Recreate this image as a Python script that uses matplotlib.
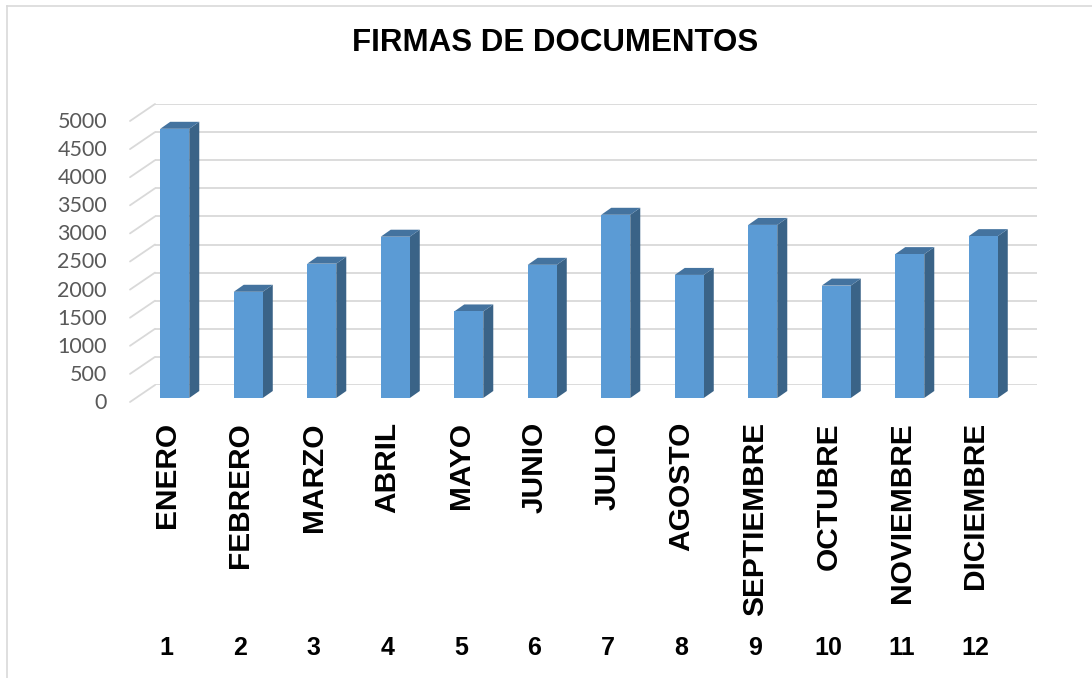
import matplotlib
matplotlib.use("Agg")
import matplotlib.pyplot as plt
from matplotlib.patches import Rectangle, Polygon
from matplotlib.lines import Line2D
import matplotlib.transforms as mtransforms

# ---- data ----
months = ["ENERO", "FEBRERO", "MARZO", "ABRIL", "MAYO", "JUNIO", "JULIO",
          "AGOSTO", "SEPTIEMBRE", "OCTUBRE", "NOVIEMBRE", "DICIEMBRE"]
month_numbers = ["1", "2", "3", "4", "5", "6", "7", "8", "9", "10", "11", "12"]
firmas = [4790, 1890, 2390, 2870, 1540, 2370, 3260, 2190, 3080, 2000, 2560, 2880]
y_ticks = [0, 500, 1000, 1500, 2000, 2500, 3000, 3500, 4000, 4500, 5000]
title = "FIRMAS DE DOCUMENTOS"

# ---- style ----
W, H = 1092, 678
FRONT = "#5B9BD5"
SIDE = "#3A6387"
TOP = "#44739F"
GRID = "#D9D9D9"

fig = plt.figure(figsize=(W / 100, H / 100), dpi=100)
fig.patch.set_facecolor("white")
ax = fig.add_axes([155 / W, 293 / H, 882 / W, 281 / H])
n = len(months)
ax.set_xlim(0.5, n + 0.5)
ax.set_ylim(0, 5000)
ax.axis("off")

ppx = ax.bbox.width / n          # pixels per category unit
ppy = ax.bbox.height / 5000.0    # pixels per value unit

def off(dx, dy):
    return mtransforms.offset_copy(ax.transData, fig=fig, x=dx, y=dy, units="dots")

# gridlines on back wall + diagonal on floor/left side
for v in y_ticks:
    ax.plot([0.5, n + 0.5], [v, v], color=GRID, lw=1.3, zorder=1, solid_capstyle="butt")
    ax.annotate("", xy=(0.5, v), xytext=(-25, -17), textcoords="offset pixels",
                arrowprops=dict(arrowstyle="-", color=GRID, lw=1.3,
                                shrinkA=0, shrinkB=0), annotation_clip=False)
    ax.text(0.5, v, str(v), transform=off(-48, -18), ha="right", va="center",
            fontsize=15.5, color="#595959", family=["Lato", "DejaVu Sans"])

# 3-D-looking bars
w = 0.395
fdx, fdy = -17 / ppx, -13 / ppy      # front face shift (data units)
sdx, sdy = 10 / ppx, 7 / ppy         # depth of bar (data units)
for i, v in enumerate(firmas, start=1):
    xl = i - w / 2 + fdx
    xr = i + w / 2 + fdx
    y0 = fdy
    y1 = v + fdy
    side = Polygon([(xr, y0), (xr, y1), (xr + sdx, y1 + sdy), (xr + sdx, y0 + sdy)],
                   closed=True, facecolor=SIDE, edgecolor="none", zorder=3, clip_on=False)
    top = Polygon([(xl, y1), (xr, y1), (xr + sdx, y1 + sdy), (xl + sdx, y1 + sdy)],
                  closed=True, facecolor=TOP, edgecolor="none", zorder=3, clip_on=False)
    front = Rectangle((xl, y0), w, v, facecolor=FRONT, edgecolor="none",
                      zorder=4, clip_on=False)
    ax.add_patch(side)
    ax.add_patch(top)
    ax.add_patch(front)

# category labels (rotated) and month numbers
num_tr = mtransforms.blended_transform_factory(off(-25, 0), fig.transFigure)
for i, (m, k) in enumerate(zip(months, month_numbers), start=1):
    ax.text(i, 0, m, transform=off(-25, -37), rotation=90, ha="center", va="top",
            fontsize=21.5, fontweight="bold", color="black",
            family=["Liberation Sans", "DejaVu Sans"])
    ax.text(i, 30 / H, k, transform=num_tr, ha="center", va="center",
            fontsize=18, fontweight="bold", color="black",
            family=["Liberation Sans", "DejaVu Sans"])

# title
fig.text(555 / W, 1 - 43 / H, title, ha="center", va="center", fontsize=22.5,
         fontweight="bold", color="black", family=["Liberation Sans", "DejaVu Sans"])

# chart border (top and left visible)
fig.add_artist(Line2D([7 / W, 1.0], [1 - 6 / H, 1 - 6 / H], transform=fig.transFigure,
                      color=GRID, lw=1.2))
fig.add_artist(Line2D([7 / W, 7 / W], [0, 1 - 6 / H], transform=fig.transFigure,
                      color=GRID, lw=1.2))

fig.savefig("out.png", dpi=100, facecolor="white")
